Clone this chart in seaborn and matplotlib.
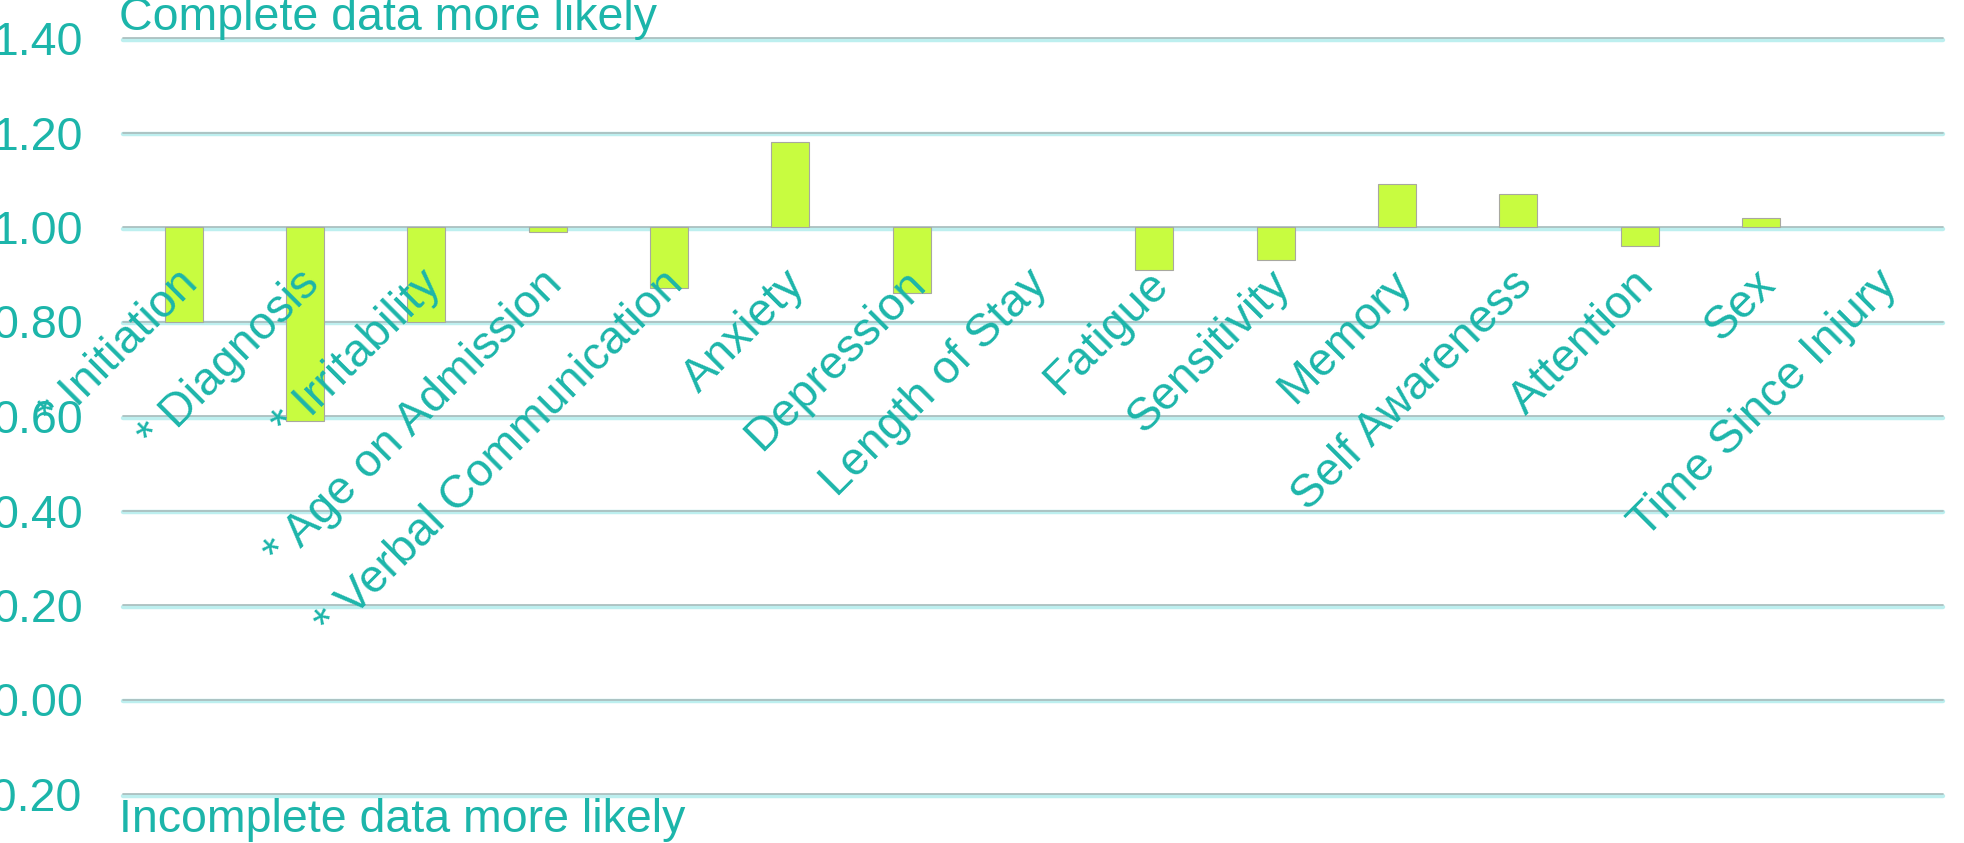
import matplotlib
matplotlib.use("Agg")
import matplotlib.pyplot as plt
import matplotlib.patheffects as pe
import matplotlib.transforms as mtransforms
import seaborn as sns
import pandas as pd

# ---- data ----
categories = ["* Initiation", "* Diagnosis", "* Irritability", "* Age on Admission",
              "* Verbal Communication", "Anxiety", "Depression", "Length of Stay",
              "Fatigue", "Sensitivity", "Memory", "Self Awareness", "Attention",
              "Sex", "Time Since Injury"]
odds_ratios = [0.80, 0.59, 0.80, 0.99, 0.87, 1.18, 0.86, 1.00,
               0.91, 0.93, 1.09, 1.07, 0.96, 1.02, 1.00]
baseline = 1.0
y_ticks = [-0.20, 0.00, 0.20, 0.40, 0.60, 0.80, 1.00, 1.20, 1.40]
top_note = "Complete data more likely"
bottom_note = "Incomplete data more likely"

TEAL = "#1CB5AA"
BAR = "#C8FC40"
FS = 33.5

sns.set_theme(style="white")
plt.rcParams["font.family"] = ["Liberation Sans", "DejaVu Sans"]
plt.rcParams["axes.unicode_minus"] = False

df = pd.DataFrame({"category": categories,
                   "deviation": [v - baseline for v in odds_ratios]})

fig = plt.figure(figsize=(19.64, 8.43), dpi=100)
ax = fig.add_axes([123 / 1964, 49 / 843, (1943 - 123) / 1964, (794 - 38) / 843])

sns.barplot(data=df, x="category", y="deviation", ax=ax, color=BAR,
            width=0.315, bottom=baseline, edgecolor="#A8A8A0", linewidth=0.8,
            saturation=1)
# zero-height bars show no outline in the reference
for p in ax.patches:
    if abs(p.get_height()) < 1e-9:
        p.set_linewidth(0)

ax.set_xlim(-0.5, len(categories) - 0.5)
ax.set_ylim(y_ticks[0], y_ticks[-1])
ax.set_yticks(y_ticks)
ax.set_yticklabels([f"{t:.2f}" for t in y_ticks])
ax.set_xlabel("")
ax.set_ylabel("")

for s in ["top", "right", "left"]:
    ax.spines[s].set_visible(False)
ax.spines["bottom"].set_position(("data", baseline))
ax.spines["bottom"].set_visible(False)

ax.tick_params(axis="y", length=0, pad=29, labelsize=FS, labelcolor=TEAL)
ax.tick_params(axis="x", length=0, pad=25, labelsize=FS, labelcolor=TEAL)

ax.set_axisbelow(True)
ax.yaxis.grid(True, color="#A9BCBC", linewidth=1.2)
ax.xaxis.grid(False)
# category labels are drawn over the bars in the reference
ax.xaxis.set_zorder(3)
for gl in ax.get_ygridlines():
    gl.set_clip_on(False)
    gl.set_path_effects([pe.Stroke(linewidth=3.2, foreground="#BDEFEF", offset=(0, -1.2)),
                         pe.Normal()])

offset = mtransforms.ScaledTranslation(-0.08, 0, fig.dpi_scale_trans)
for lab in ax.get_xticklabels():
    lab.set_rotation(45)
    lab.set_ha("right")
    lab.set_rotation_mode("anchor")
    lab.set_transform(lab.get_transform() + offset)

fig.text(119 / 1964, 1 - 30 / 843, top_note, color=TEAL, fontsize=FS,
         ha="left", va="baseline")
fig.text(119 / 1964, 11 / 843, bottom_note, color=TEAL, fontsize=FS,
         ha="left", va="baseline")

fig.savefig("out.png", dpi=100, facecolor="white")
